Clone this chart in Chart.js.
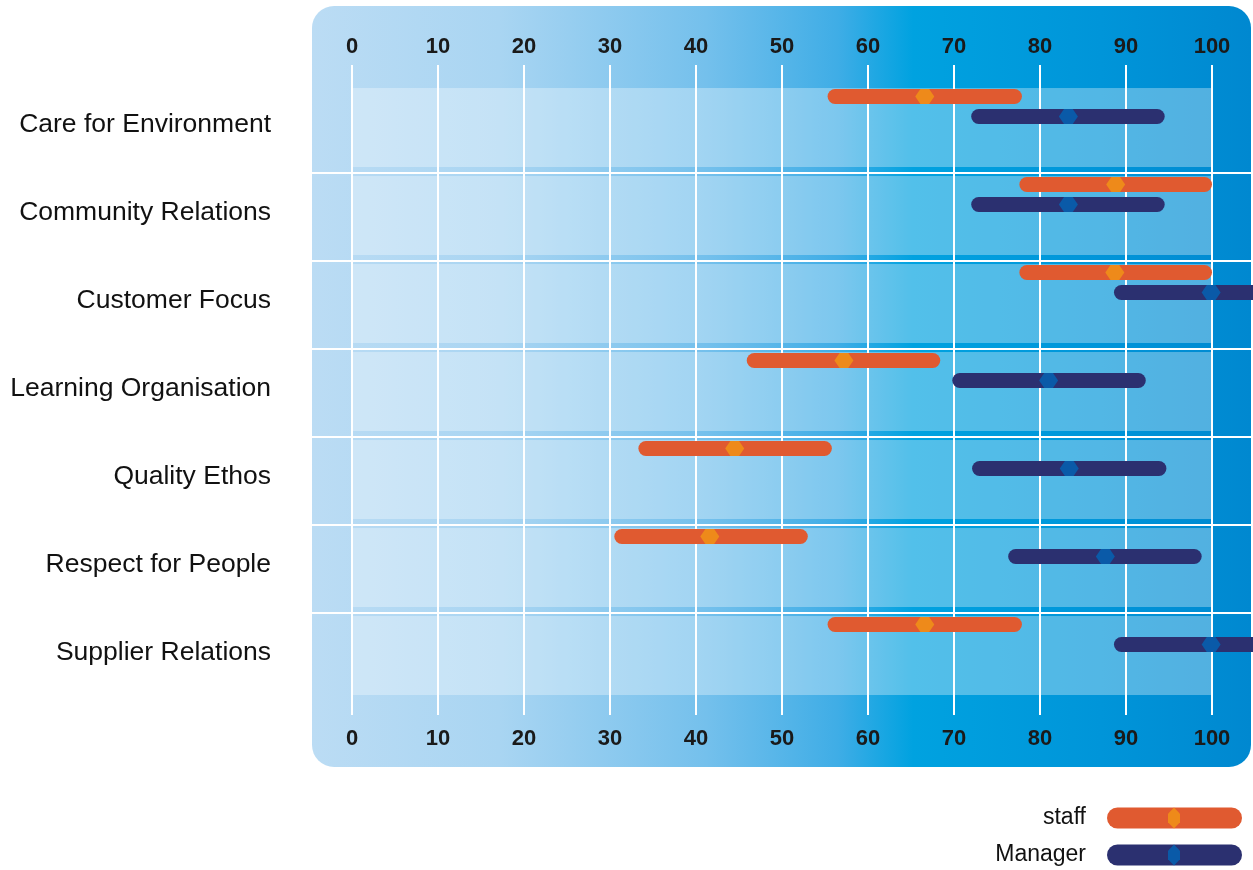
<!DOCTYPE html>
<html>
<head>
<meta charset="utf-8">
<title>Values profile: staff vs Manager</title>
<script src="https://cdn.jsdelivr.net/npm/chart.js@4.4.1/dist/chart.umd.min.js"></script>
<style>
  html, body { margin: 0; padding: 0; background: #fff; }
  #wrap { width: 1253px; height: 870px; }
</style>
</head>
<body>
<div id="wrap"><canvas id="chart" width="1253" height="870"></canvas></div>
<script>
const categories = ['Care for Environment', 'Community Relations', 'Customer Focus',
  'Learning Organisation', 'Quality Ethos', 'Respect for People', 'Supplier Relations'];

// range of answers (low..high) and the average for each group
const staffLow    = [55.3, 77.6, 77.6, 45.9, 33.3, 30.5, 55.3];
const staffHigh   = [77.9, 100, 100, 68.4, 55.8, 53.0, 77.9];
const staffMean   = [66.6, 88.8, 88.7, 57.2, 44.5, 41.6, 66.6];
const managerLow  = [72.0, 72.0, 88.6, 69.8, 72.1, 76.3, 88.6];
const managerHigh = [94.5, 94.5, 111, 92.3, 94.7, 98.8, 111];
const managerMean = [83.3, 83.3, 99.9, 81.0, 83.4, 87.6, 99.9];

const xTicks = [0, 10, 20, 30, 40, 50, 60, 70, 80, 90, 100];

const FONT = '"Liberation Sans", Arial, Helvetica, sans-serif';

let pairs = (lo, hi) => lo.map((v, i) => [v, hi[i]]);

function roundRect(ctx, x, y, w, h, r) {
  ctx.beginPath();
  ctx.moveTo(x + r, y);
  ctx.lineTo(x + w - r, y);
  ctx.arcTo(x + w, y, x + w, y + r, r);
  ctx.lineTo(x + w, y + h - r);
  ctx.arcTo(x + w, y + h, x + w - r, y + h, r);
  ctx.lineTo(x + r, y + h);
  ctx.arcTo(x, y + h, x, y + h - r, r);
  ctx.lineTo(x, y + r);
  ctx.arcTo(x, y, x + r, y, r);
  ctx.closePath();
}

// flat-topped hexagon used as the average marker on the bars
function hexH(ctx, cx, cy, w, h) {
  let a = w / 2, b = w * 0.23;
  ctx.beginPath();
  ctx.moveTo(cx - a, cy);
  ctx.lineTo(cx - b, cy - h / 2);
  ctx.lineTo(cx + b, cy - h / 2);
  ctx.lineTo(cx + a, cy);
  ctx.lineTo(cx + b, cy + h / 2);
  ctx.lineTo(cx - b, cy + h / 2);
  ctx.closePath();
}

// same thing standing up, for the legend
function hexV(ctx, cx, cy, w, h) {
  let a = h / 2, b = h * 0.2;
  ctx.beginPath();
  ctx.moveTo(cx, cy - a);
  ctx.lineTo(cx + w / 2, cy - b);
  ctx.lineTo(cx + w / 2, cy + b);
  ctx.lineTo(cx, cy + a);
  ctx.lineTo(cx - w / 2, cy + b);
  ctx.lineTo(cx - w / 2, cy - b);
  ctx.closePath();
}

const panelPlugin = {
  id: 'panel',
  beforeDraw(chart) {
    const { ctx, chartArea: area, scales } = chart;
    const xs = scales.x, ys = scales.y;
    const px = area.left - 40, py = 6, pw = area.right + 39 - px, ph = 767 - py;

    ctx.save();
    let g = ctx.createLinearGradient(px, 0, px + pw, 0);
    g.addColorStop(0, '#bbdcf4');
    g.addColorStop(0.2, '#a9d5f2');
    g.addColorStop(0.42, '#74c0ec');
    g.addColorStop(0.56, '#3fade6');
    g.addColorStop(0.64, '#00a2e0');
    g.addColorStop(0.84, '#0095d9');
    g.addColorStop(1, '#0088d0');
    roundRect(ctx, px, py, pw, ph, 22);
    ctx.fillStyle = g;
    ctx.fill();

    // lighter band behind each row
    const step = ys.getPixelForValue(1) - ys.getPixelForValue(0);
    ctx.fillStyle = 'rgba(255,255,255,0.32)';
    categories.forEach((c, i) => {
      let cy = ys.getPixelForValue(i);
      let top = cy - 0.21 * step, bot = cy + 0.6875 * step;
      ctx.fillRect(area.left, top, area.right - area.left, bot - top);
    });

    // row separators
    ctx.strokeStyle = '#ffffff';
    ctx.lineWidth = 2;
    for (let i = 0; i < categories.length - 1; i++) {
      let y = Math.round(ys.getPixelForValue(i) + 0.756 * step);
      ctx.beginPath();
      ctx.moveTo(px, y);
      ctx.lineTo(px + pw, y);
      ctx.stroke();
    }

    // vertical grid, running past the plot into the tick bands
    xs.ticks.forEach(t => {
      let x = Math.round(xs.getPixelForValue(t.value));
      ctx.beginPath();
      ctx.moveTo(x, 65);
      ctx.lineTo(x, 715);
      ctx.stroke();
    });
    ctx.restore();
  },

  afterDatasetsDraw(chart) {
    const { ctx, scales } = chart;
    ctx.save();
    chart.data.datasets.forEach((ds, di) => {
      const meta = chart.getDatasetMeta(di);
      meta.data.forEach((bar, i) => {
        let x = scales.x.getPixelForValue(ds.means[i]);
        hexH(ctx, x, bar.y, 19, bar.height);
        ctx.fillStyle = ds.markerColor;
        ctx.fill();
      });
    });
    ctx.restore();
  },

  afterDraw(chart) {
    const { ctx } = chart;
    ctx.save();
    ctx.font = '23px ' + FONT;
    ctx.textAlign = 'right';
    ctx.textBaseline = 'middle';
    chart.data.datasets.forEach((ds, i) => {
      let y = 818 + i * 37;
      ctx.fillStyle = '#111';
      ctx.fillText(ds.label, 1086, y);
      roundRect(ctx, 1107, y - 10.5, 135, 21, 10.5);
      ctx.fillStyle = ds.backgroundColor;
      ctx.fill();
      hexV(ctx, 1174, y, 12, 21);
      ctx.fillStyle = ds.markerColor;
      ctx.fill();
    });
    ctx.restore();
  }
};

const tickFont = { family: FONT, size: 22, weight: 'bold' };
let xAxis = (position, pad, height) => ({
  type: 'linear',
  position: position,
  min: 0,
  max: 100,
  afterBuildTicks: s => { s.ticks = xTicks.map(v => ({ value: v })); },
  // fixed band height; don't let the label padding push the plot inwards
  afterFit: s => { s.height = height; s.paddingLeft = 0; s.paddingRight = 0; },
  grid: { display: false },
  border: { display: false },
  ticks: { color: '#1a1a1a', font: tickFont, padding: pad }
});

new Chart(document.querySelector('#chart'), {
  type: 'bar',
  data: {
    labels: categories,
    datasets: [
      {
        label: 'staff',
        data: pairs(staffLow, staffHigh),
        means: staffMean,
        backgroundColor: '#e05a30',
        markerColor: '#ee8a1a'
      },
      {
        label: 'Manager',
        data: pairs(managerLow, managerHigh),
        means: managerMean,
        backgroundColor: '#2b3070',
        markerColor: '#0a5aa8'
      }
    ]
  },
  options: {
    indexAxis: 'y',
    responsive: false,
    animation: false,
    devicePixelRatio: 1,
    layout: { padding: { right: 41 } },
    datasets: {
      bar: {
        categoryPercentage: 40 / 88,
        barPercentage: 0.75,
        borderRadius: 8,
        borderSkipped: false,
        clip: false
      }
    },
    plugins: {
      legend: { display: false },
      tooltip: { enabled: false }
    },
    scales: {
      x: xAxis('top', -5.5, 62.5),
      x2: xAxis('bottom', 39, 191.5),
      y: {
        type: 'category',
        position: 'left',
        afterFit: s => { s.width = 352; s.paddingTop = 0; s.paddingBottom = 0; },
        grid: { display: false },
        border: { display: false },
        ticks: {
          color: '#111',
          font: { family: FONT, size: 26.5 },
          padding: 73,
          labelOffset: 18.5
        }
      }
    }
  },
  plugins: [panelPlugin]
});
</script>
</body>
</html>
